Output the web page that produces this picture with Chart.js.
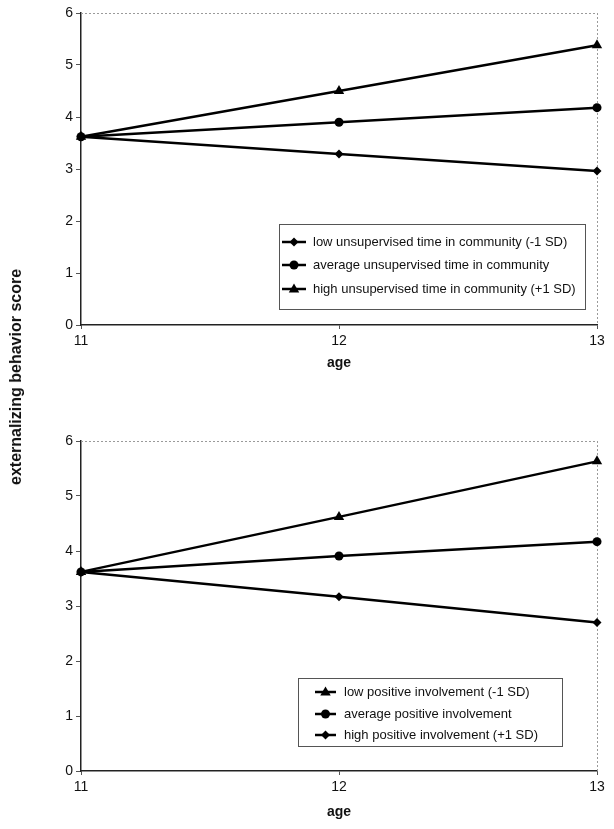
<!DOCTYPE html>
<html><head><meta charset="utf-8">
<script src="https://cdn.jsdelivr.net/npm/chart.js@4.4.0/dist/chart.umd.min.js"></script>
<style>
html,body{margin:0;padding:0;background:#fff;}
body{width:614px;height:829px;position:relative;overflow:hidden;font-family:"Liberation Sans",Arial,sans-serif;}
#w1{position:absolute;left:0;top:0;width:614px;height:376px;}
#w2{position:absolute;left:0;top:428px;width:614px;height:401px;}
#ytitle{position:absolute;left:16px;top:377px;transform:translate(-50%,-50%) rotate(-90deg);font-weight:bold;font-size:16px;white-space:nowrap;color:#111;}
</style></head>
<body>
<div id="w1"><canvas id="c1"></canvas></div>
<div id="w2"><canvas id="c2"></canvas></div>
<div id="ytitle">externalizing behavior score</div>
<script>
// ---- data ----
const ages = ['11', '12', '13'];
const yTicks = [0, 1, 2, 3, 4, 5, 6];
const xTitle = 'age';
const yTitle = 'externalizing behavior score';

const topLabels = [
  'low unsupervised time in community (-1 SD)',
  'average unsupervised time in community',
  'high unsupervised time in community (+1 SD)'
];
const topLow = [3.62, 3.29, 2.96];
const topAvg = [3.62, 3.90, 4.18];
const topHigh = [3.62, 4.50, 5.38];

const botLabels = [
  'low positive involvement (-1 SD)',
  'average positive involvement',
  'high positive involvement (+1 SD)'
];
const botLow = [3.62, 4.62, 5.63];
const botAvg = [3.62, 3.91, 4.17];
const botHigh = [3.62, 3.17, 2.70];

const FONT = '"Liberation Sans", Arial, sans-serif';
document.getElementById('ytitle').textContent = yTitle;

function drawMarker(ctx, style, x, y, r) {
  ctx.beginPath();
  if (style === 'circle') {
    ctx.arc(x, y, r, 0, Math.PI * 2);
  } else if (style === 'rectRot') {
    ctx.moveTo(x - r, y); ctx.lineTo(x, y - r); ctx.lineTo(x + r, y); ctx.lineTo(x, y + r);
    ctx.closePath();
  } else if (style === 'triangle') {
    ctx.moveTo(x, y - r * 1.1); ctx.lineTo(x + r * 1.05, y + r * 0.7); ctx.lineTo(x - r * 1.05, y + r * 0.7);
    ctx.closePath();
  }
  ctx.fill();
}

const framePlugin = {
  id: 'frame',
  beforeDatasetsDraw(chart) {
    const {ctx, chartArea: a} = chart;
    ctx.save();
    ctx.strokeStyle = '#9a9a9a';
    ctx.lineWidth = 1;
    ctx.setLineDash([2, 2]);
    ctx.beginPath();
    ctx.moveTo(a.left, a.top + 0.5); ctx.lineTo(a.right, a.top + 0.5);
    ctx.moveTo(a.right + 0.5, a.top); ctx.lineTo(a.right + 0.5, a.bottom);
    ctx.stroke();
    ctx.restore();
  }
};

const legendPlugin = {
  id: 'boxLegend',
  afterDraw(chart, args, opts) {
    const ctx = chart.ctx;
    ctx.save();
    ctx.fillStyle = '#fff';
    ctx.fillRect(opts.x, opts.y, opts.w, opts.h);
    ctx.strokeStyle = '#555';
    ctx.lineWidth = 1;
    ctx.strokeRect(opts.x + 0.5, opts.y + 0.5, opts.w, opts.h);
    ctx.font = '13px ' + FONT;
    ctx.textBaseline = 'middle';
    chart.data.datasets.forEach((ds, i) => {
      const yy = opts.rows[i];
      ctx.strokeStyle = '#000';
      ctx.lineWidth = 2.5;
      ctx.beginPath();
      ctx.moveTo(opts.lx0, yy); ctx.lineTo(opts.lx1, yy);
      ctx.stroke();
      ctx.fillStyle = '#000';
      drawMarker(ctx, ds.pointStyle, (opts.lx0 + opts.lx1) / 2, yy, ds.pointStyle === 'triangle' ? 5 : 4.5);
      ctx.fillStyle = '#111';
      ctx.fillText(ds.label, opts.tx, yy + 0.5);
    });
    ctx.restore();
  }
};

function makeDs(label, data, style) {
  return {
    label, data,
    borderColor: '#000', backgroundColor: '#000',
    borderWidth: 2.5, pointStyle: style,
    pointRadius: style === 'triangle' ? 6 : 4.5,
    pointBorderWidth: 0, pointBackgroundColor: '#000',
    tension: 0, clip: false
  };
}

function makeChart(id, datasets, xH, titlePadB, legendOpts) {
  return new Chart(document.getElementById(id), {
    type: 'line',
    data: { labels: ages, datasets },
    plugins: [framePlugin, legendPlugin],
    options: {
      responsive: true, maintainAspectRatio: false, animation: false,
      layout: { padding: { left: 0, right: 17, top: 13, bottom: 0 } },
      plugins: { legend: { display: false }, tooltip: { enabled: false }, boxLegend: legendOpts },
      scales: {
        x: {
          type: 'category', offset: false,
          grid: { drawOnChartArea: false, drawTicks: true, tickLength: 4, color: '#555' },
          border: { color: '#222', width: 1.5 },
          ticks: { font: { size: 14, family: FONT }, color: '#111', padding: 4, maxRotation: 0, autoSkip: false },
          title: { display: true, text: xTitle, font: { size: 14, weight: 'bold', family: FONT }, color: '#111', padding: { top: 0, bottom: titlePadB } },
          afterFit: s => { s.height = xH; }
        },
        y: {
          min: 0, max: 6,
          afterBuildTicks: s => { s.ticks = yTicks.map(v => ({ value: v })); },
          grid: { drawOnChartArea: false, drawTicks: true, tickLength: 5, color: '#555' },
          border: { color: '#222', width: 1.5 },
          ticks: { font: { size: 14, family: FONT }, color: '#111', padding: 3 },
          afterFit: s => { s.width = 81; }
        }
      }
    }
  });
}

makeChart('c1', [
  makeDs(topLabels[0], topLow, 'rectRot'),
  makeDs(topLabels[1], topAvg, 'circle'),
  makeDs(topLabels[2], topHigh, 'triangle')
], 51, 4, { x: 279, y: 224, w: 306, h: 85, rows: [242, 265, 289], lx0: 282, lx1: 306, tx: 313 });

makeChart('c2', [
  makeDs(botLabels[0], botLow, 'triangle'),
  makeDs(botLabels[1], botAvg, 'circle'),
  makeDs(botLabels[2], botHigh, 'rectRot')
], 58, 8, { x: 298, y: 250, w: 264, h: 68, rows: [264, 286, 307], lx0: 315, lx1: 336, tx: 344 });
</script>
</body></html>
